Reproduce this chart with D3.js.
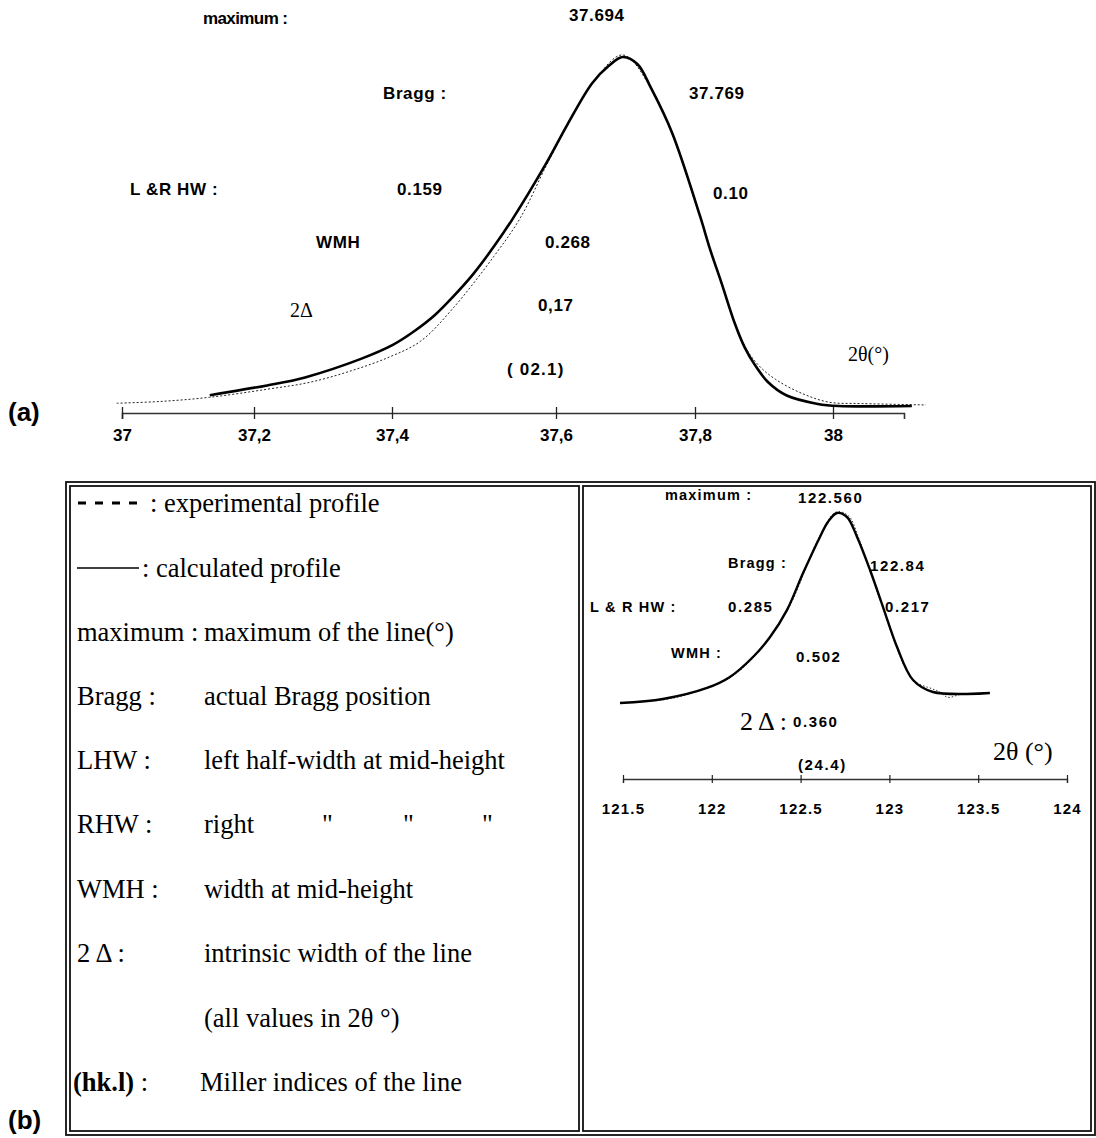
<!DOCTYPE html>
<html><head><meta charset="utf-8">
<script src="https://cdn.jsdelivr.net/npm/d3@7"></script>
<style>body{margin:0;background:#fff;} svg{display:block;}</style>
</head><body>
<svg id="c" width="1096" height="1138"></svg>
<script>
// ---------- data: panel (a), line (02.1) ----------
const topTicks = [37, 37.2, 37.4, 37.6, 37.8, 38];
const topTickLabels = ["37", "37,2", "37,4", "37,6", "37,8", "38"];
const topCalcX = [37.133, 37.219, 37.274, 37.355, 37.401, 37.427, 37.452, 37.474, 37.499, 37.524, 37.546, 37.588, 37.616, 37.652, 37.676, 37.696, 37.717, 37.737, 37.767, 37.807, 37.822, 37.838, 37.858, 37.872, 37.886, 37.906, 37.933, 37.978, 38.008, 38.111];
const topCalcY = [3.1, 5.9, 8.2, 13.5, 17.5, 21.4, 26.0, 31.2, 37.8, 45.6, 53.2, 69.5, 80.5, 92.5, 97.5, 100, 98.0, 91.0, 78.3, 54.6, 44.8, 35.5, 23.5, 16.8, 12.0, 6.8, 3.0, 0.6, 0, 0];
const topExpX = [36.992, 37.058, 37.133, 37.219, 37.281, 37.341, 37.397, 37.435, 37.474, 37.524, 37.557, 37.588, 37.616, 37.652, 37.696, 37.737, 37.767, 37.807, 37.838, 37.872, 37.893, 37.917, 37.954, 37.994, 38.042, 38.131];
const topExpY = [0.8, 1.3, 2.5, 4.8, 6.8, 10.1, 14.1, 18.6, 27.9, 42.8, 54.1, 68.8, 80.2, 92.3, 100.6, 91.0, 78.0, 54.4, 35.3, 17.2, 11.5, 7.6, 3.7, 1.1, 0.7, 0.3];
const topLabels = ["maximum :", "37.694", "Bragg :", "37.769", "L &R HW :", "0.159", "0.10", "WMH", "0.268", "0,17", "( 02.1)"];

// ---------- data: panel (b), line (24.4) ----------
const rightTicks = [121.5, 122, 122.5, 123, 123.5, 124];
const rightTickLabels = ["121.5", "122", "122.5", "123", "123.5", "124"];
const rightCalcX = [121.483, 121.725, 121.973, 122.102, 122.232, 122.328, 122.423, 122.514, 122.609, 122.654, 122.705, 122.761, 122.818, 122.891, 122.964, 123.043, 123.133, 123.245, 123.566];
const rightCalcY = [0, 2.1, 7.9, 13.7, 24.2, 34.7, 48.9, 68.4, 87.4, 95.3, 100, 97.9, 87.4, 70, 50.5, 29.5, 12.1, 5.8, 5.3];
const rightExpX = [121.55, 121.65, 121.75, 121.9, 122.1, 122.25, 122.43, 122.6, 122.7, 122.77, 122.83, 122.96, 123.13, 123.24, 123.28, 123.33, 123.4, 123.5];
const rightExpY = [0.5, 1.2, 2.0, 5.5, 13.2, 25.5, 49.5, 86.5, 100.5, 98.5, 86, 51, 12.5, 7.5, 6.0, 3.0, 4.5, 5.0];
const rightLabels = ["maximum :", "122.560", "Bragg :", "122.84", "L & R HW :", "0.285", "0.217", "WMH :", "0.502", "0.360", "(24.4)"];

// ---------- legend text ----------
const legendLabels = ["maximum :", "Bragg :", "LHW :", "RHW :", "WMH :", "2 \u0394 :", "", "(hk.l)"];
const legendDescs = ["maximum of the line(\u00b0)", "actual Bragg position", "left half-width at mid-height", "right", "width at mid-height", "intrinsic width of the line", "(all values in 2\u03b8 \u00b0)", "Miller indices of the line"];

const svg = d3.select("#c");
const sans = "'Liberation Sans', Arial, Helvetica, sans-serif";
const serif = "'Liberation Serif', 'Times New Roman', serif";
const zip = (xs, ys) => xs.map((x, i) => [x, ys[i]]);

// ================= panel (a) =================
// the printed axis of the original is slightly irregular: piecewise-linear scale through its ticks
const xA = d3.scaleLinear().domain([37, 37.2, 37.4, 37.6, 37.8, 38, 38.1]).range([122, 254, 392, 556, 695, 833, 904]);
const yA = d3.scaleLinear().domain([0, 100]).range([406, 57]);
const axA = svg.append("g").attr("transform", "translate(0,413)")
  .call(d3.axisBottom(xA).tickValues(topTicks).tickFormat((d, i) => topTickLabels[i]).tickSizeOuter(0).tickSize(6));
axA.select(".domain").attr("stroke", "#333").attr("stroke-width", 1.6);
axA.selectAll(".tick line").attr("y1", -6).attr("y2", 6).attr("stroke", "#222").attr("stroke-width", 1.3);
axA.selectAll(".tick text").attr("y", 28).attr("dy", 0).attr("fill", "#000")
  .style("font-family", sans).style("font-weight", "bold").style("font-size", "17px");

const lineA = d3.line().x(d => xA(d[0])).y(d => yA(d[1])).curve(d3.curveCatmullRom.alpha(0.5));
svg.append("path").datum(zip(topExpX, topExpY)).attr("d", lineA)
  .attr("fill", "none").attr("stroke", "#222").attr("stroke-width", 1).attr("stroke-dasharray", "2,2");
svg.append("path").datum(zip(topCalcX, topCalcY)).attr("d", lineA)
  .attr("fill", "none").attr("stroke", "#000").attr("stroke-width", 2.6);

const topPos = [[203, 24], [569, 21], [383, 99], [689, 99], [130, 195], [397, 195], [713, 199], [316, 248], [545, 248], [538, 311], [507, 375]];
topLabels.forEach((t, i) => {
  svg.append("text").attr("x", topPos[i][0]).attr("y", topPos[i][1]).text(t)
    .style("font-family", sans).style("font-weight", "bold")
    .style("font-size", "17px").style("letter-spacing", i === 0 ? "-0.6px" : (i === 10 ? "1.2px" : "0.6px"))
    .attr("xml:space", "preserve");
});
svg.append("text").attr("x", 290).attr("y", 317).text("2\u0394")
  .style("font-family", serif).style("font-size", "20px");
svg.append("text").attr("x", 848).attr("y", 361).text("2\u03b8(\u00b0)")
  .style("font-family", serif).style("font-size", "20px");
svg.append("text").attr("x", 8).attr("y", 421).text("(a)")
  .style("font-family", sans).style("font-weight", "bold").style("font-size", "26px");

// ================= panel (b) frame =================
const fr = svg.append("g").attr("fill", "none").attr("stroke", "#111").attr("stroke-width", 1.8);
fr.append("rect").attr("x", 66).attr("y", 482).attr("width", 1029).attr("height", 653);
fr.append("rect").attr("x", 70).attr("y", 486).attr("width", 509).attr("height", 645);
fr.append("rect").attr("x", 583).attr("y", 486).attr("width", 508).attr("height", 645);
svg.append("text").attr("x", 8).attr("y", 1129).text("(b)")
  .style("font-family", sans).style("font-weight", "bold").style("font-size", "26px");

// ================= legend (left cell) =================
const fs = "26.5px";
svg.append("line").attr("x1", 78).attr("x2", 140).attr("y1", 503).attr("y2", 503)
  .attr("stroke", "#000").attr("stroke-width", 2.8).attr("stroke-dasharray", "8,9");
svg.append("text").attr("x", 150).attr("y", 512).text(": experimental profile")
  .style("font-family", serif).style("font-size", fs);
svg.append("line").attr("x1", 77).attr("x2", 139).attr("y1", 568).attr("y2", 568)
  .attr("stroke", "#000").attr("stroke-width", 1.4);
svg.append("text").attr("x", 142).attr("y", 577).text(": calculated profile")
  .style("font-family", serif).style("font-size", fs);

const rowBase = [641, 705, 769, 833, 898, 962, 1027, 1091];
legendLabels.forEach((t, i) => {
  if (!t) return;
  const g = svg.append("text").attr("x", i === 7 ? 73 : 77).attr("y", rowBase[i])
    .style("font-family", serif).style("font-size", fs);
  if (i === 7) {
    g.append("tspan").text("(hk.l)").style("font-weight", "bold");
    g.append("tspan").text(" :");
  } else g.text(t);
});
legendDescs.forEach((t, i) => {
  svg.append("text").attr("x", i === 7 ? 200 : 204).attr("y", rowBase[i]).text(t)
    .style("font-family", serif).style("font-size", fs);
});
[322, 403, 482].forEach(x => {
  svg.append("text").attr("x", x).attr("y", rowBase[3]).text("\"")
    .style("font-family", serif).style("font-size", fs);
});

// ================= right cell chart =================
const xB = d3.scaleLinear().domain([121.5, 124]).range([623, 1067]);
const yB = d3.scaleLinear().domain([0, 100]).range([703, 513]);
const axB = svg.append("g").attr("transform", "translate(0,779)")
  .call(d3.axisBottom(xB).tickValues(rightTicks).tickFormat((d, i) => rightTickLabels[i]).tickSizeOuter(0).tickSize(4));
axB.select(".domain").attr("stroke", "#333").attr("stroke-width", 1.3);
axB.selectAll(".tick line").attr("y1", -4).attr("y2", 4).attr("stroke", "#222").attr("stroke-width", 1.2);
axB.selectAll(".tick text").attr("y", 35).attr("dy", 0).attr("fill", "#000")
  .style("font-family", sans).style("font-weight", "bold").style("font-size", "15px").style("letter-spacing", "1.2px");

const lineB = d3.line().x(d => xB(d[0])).y(d => yB(d[1])).curve(d3.curveCatmullRom.alpha(0.5));
svg.append("path").datum(zip(rightExpX, rightExpY)).attr("d", lineB)
  .attr("fill", "none").attr("stroke", "#333").attr("stroke-width", 1).attr("stroke-dasharray", "1.5,2");
svg.append("path").datum(zip(rightCalcX, rightCalcY)).attr("d", lineB)
  .attr("fill", "none").attr("stroke", "#000").attr("stroke-width", 2.4);

const rightPos = [[665, 500], [798, 503], [728, 568], [870, 571], [590, 612], [728, 612], [885, 612], [671, 658], [796, 662], [793, 727], [798, 770]];
const rightIsWord = [true, false, true, false, true, false, false, true, false, false, false];
rightLabels.forEach((t, i) => {
  svg.append("text").attr("x", rightPos[i][0]).attr("y", rightPos[i][1]).text(t)
    .style("font-family", sans).style("font-weight", "bold")
    .style("font-size", rightIsWord[i] ? "14.5px" : "15px")
    .style("letter-spacing", rightIsWord[i] ? "1.2px" : "1.6px");
});
svg.append("text").attr("x", 740).attr("y", 730).text("2 \u0394 :")
  .style("font-family", serif).style("font-size", "26px");
svg.append("text").attr("x", 993).attr("y", 760).text("2\u03b8 (\u00b0)")
  .style("font-family", serif).style("font-size", "26px");
</script>
</body></html>
